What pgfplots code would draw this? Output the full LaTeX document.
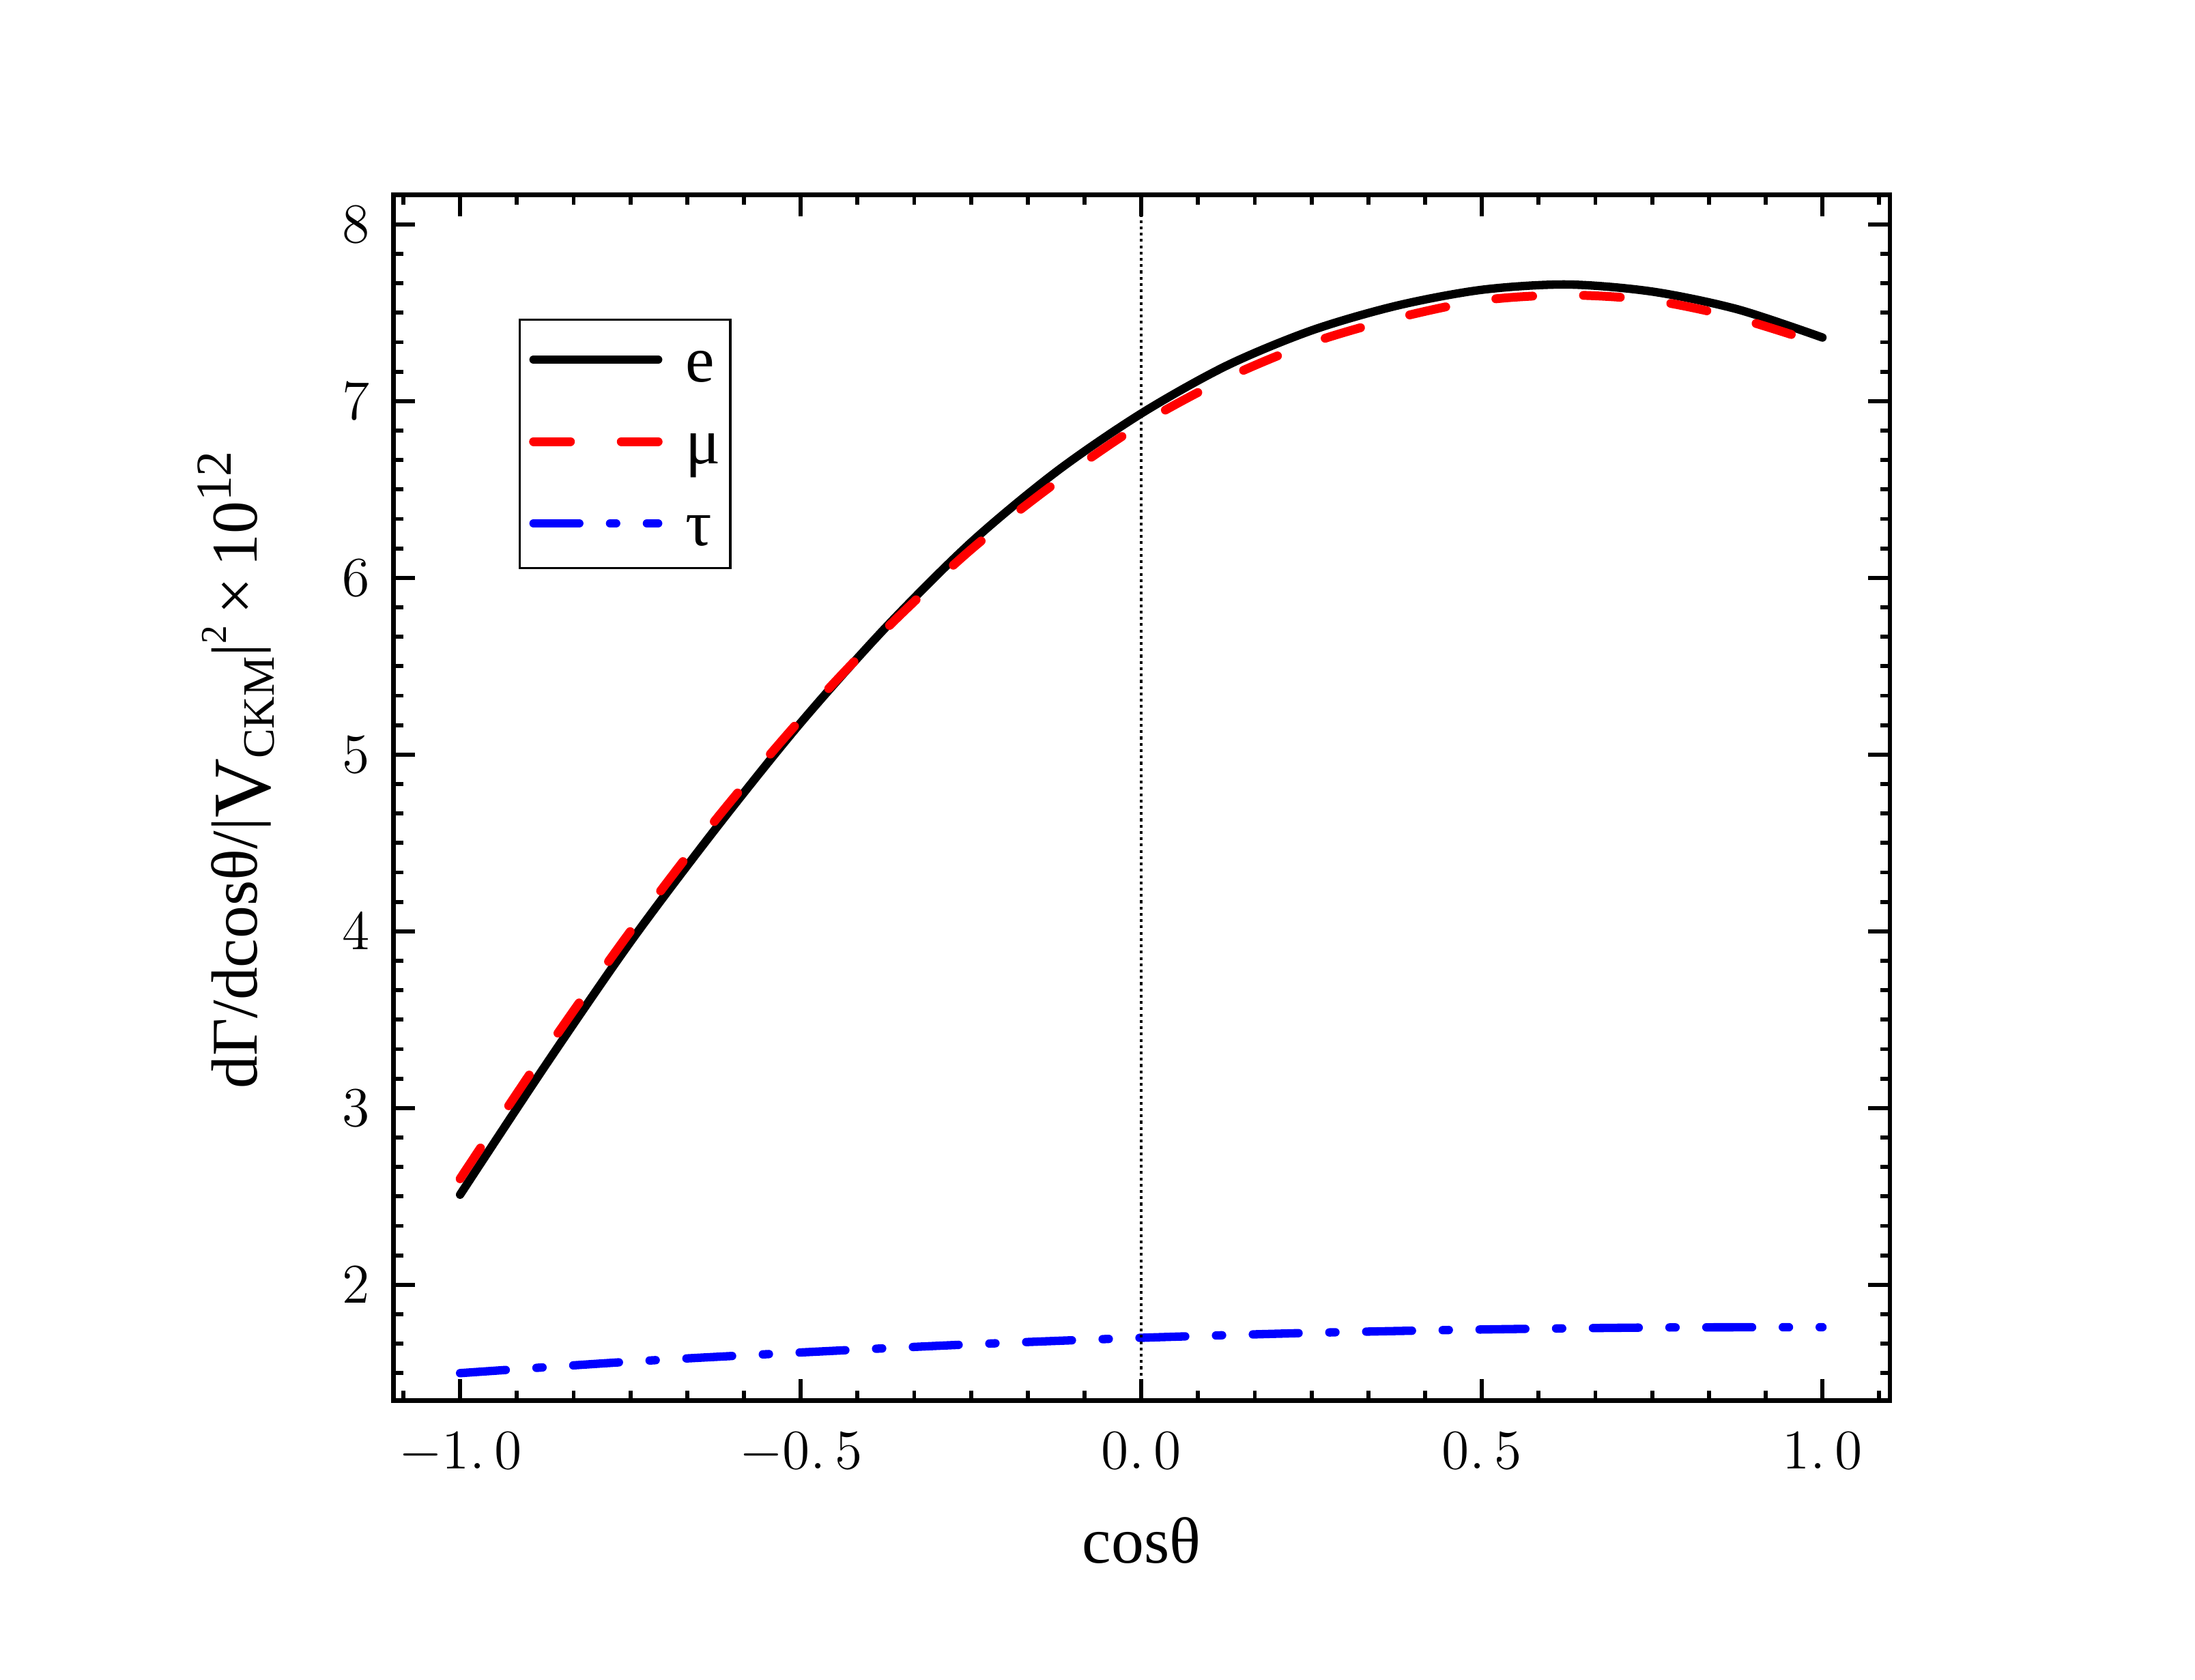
\documentclass[border=0pt]{standalone}
\usepackage{fontspec}
\setmainfont{Liberation Serif}
\usepackage{pgfplots}
\pgfplotsset{compat=1.18}

\pgfplotstableread{
x      e     mu
-1.000 2.51  2.60
-0.875 3.24  3.32
-0.750 3.94  4.00
-0.625 4.58  4.63
-0.500 5.18  5.20
-0.375 5.72  5.71
-0.250 6.20  6.16
-0.125 6.60  6.54
0.000  6.93  6.87
0.125  7.20  7.13
0.250  7.40  7.33
0.375  7.54  7.47
0.500  7.63  7.57
0.625  7.66  7.60
0.750  7.62  7.57
0.875  7.52  7.47
1.000  7.36  7.32
}\leptons

\pgfplotstableread{
x     tau
-1.00 1.500
-0.75 1.565
-0.50 1.617
-0.25 1.663
0.00  1.700
0.25  1.728
0.50  1.747
0.75  1.758
1.00  1.760
}\taudata

\begin{document}
\begin{tikzpicture}
\path[use as bounding box] (0,0) rectangle (470.4pt,360pt);
\begin{axis}[
  at={(84.3pt,59.76pt)}, anchor=south west,
  scale only axis, width=320.7pt, height=258.5pt,
  xmin=-1.098, xmax=1.099, ymin=1.344, ymax=8.168,
  xtick={-1,-0.5,0,0.5,1},
  xticklabels={$-1.\,0$,$-0.\,5$,$0.\,0$,$0.\,5$,$1.\,0$},
  ytick={2,3,4,5,6,7,8},
  minor xtick={-1.08333,-0.91667,-0.83333,-0.75,-0.66667,-0.58333,-0.41667,-0.33333,-0.25,-0.16667,-0.08333,0.08333,0.16667,0.25,0.33333,0.41667,0.58333,0.66667,0.75,0.83333,0.91667,1.08333},
  minor ytick={1.5,1.66667,1.83333,2.16667,2.33333,2.5,2.66667,2.83333,3.16667,3.33333,3.5,3.66667,3.83333,4.16667,4.33333,4.5,4.66667,4.83333,5.16667,5.33333,5.5,5.66667,5.83333,6.16667,6.33333,6.5,6.66667,6.83333,7.16667,7.33333,7.5,7.66667,7.83333},
  tick align=inside,
  major tick length=4.7pt, minor tick length=2.1pt,
  every tick/.style={black, line width=0.85pt},
  axis line style={line width=0.95pt},
  xticklabel style={font=\fontsize{11.5}{12}\selectfont, yshift=-3.4pt},
  yticklabel style={font=\fontsize{11.5}{12}\selectfont, xshift=-1.5pt},
  xlabel={cosθ},
  xlabel style={font=\fontsize{14}{16}\selectfont, at={(axis description cs:0.5,-0.1346)}, anchor=base},
  ylabel={dΓ/dcosθ/|\raisebox{-2.7pt}{\fontsize{17.6}{18}\selectfont V}\raisebox{-3.66pt}{\fontsize{9.6}{10}\selectfont CKM}|\raisebox{6.6pt}{\fontsize{7.8}{9}\selectfont 2}\,×\,10\raisebox{5.6pt}{\fontsize{10.8}{12}\selectfont 12}},
  ylabel style={font=\fontsize{14}{16}\selectfont, at={(axis description cs:-0.091,0.523)}, anchor=base, rotate=0},
  legend style={at={(axis description cs:0.0837,0.8973)}, anchor=north west,
    draw=black, line width=0.5pt, font=\fontsize{14}{16}\selectfont,
    inner xsep=2pt, inner ysep=2pt, row sep=3.4pt,
    cells={anchor=base west},
    nodes={inner sep=0pt, text height=11.25pt, text depth=2.9pt},
    /tikz/every odd column/.append style={column sep=5pt}},
  legend image code/.code={\draw[#1] (0pt,4.7pt) -- (26.7pt,4.7pt);},
]
\addplot[black, line width=1.8pt, line cap=round, smooth] table[x=x, y=e] {\leptons};
\addlegendentry{e}
\addplot[red, line width=1.9pt, line cap=round, dash pattern=on 7.9pt off 10.9pt, smooth] table[x=x, y=mu] {\leptons};
\addlegendentry{μ}
\addplot[blue, line width=1.8pt, line cap=round, dash pattern=on 9.8pt off 6.6pt on 1.3pt off 6.6pt, smooth] table[x=x, y=tau] {\taudata};
\addlegendentry{τ}
\addplot[black, line width=0.55pt, dash pattern=on 0.6pt off 0.75pt, forget plot] coordinates {(0,1.344) (0,8.168)};
\end{axis}
\end{tikzpicture}
\end{document}
